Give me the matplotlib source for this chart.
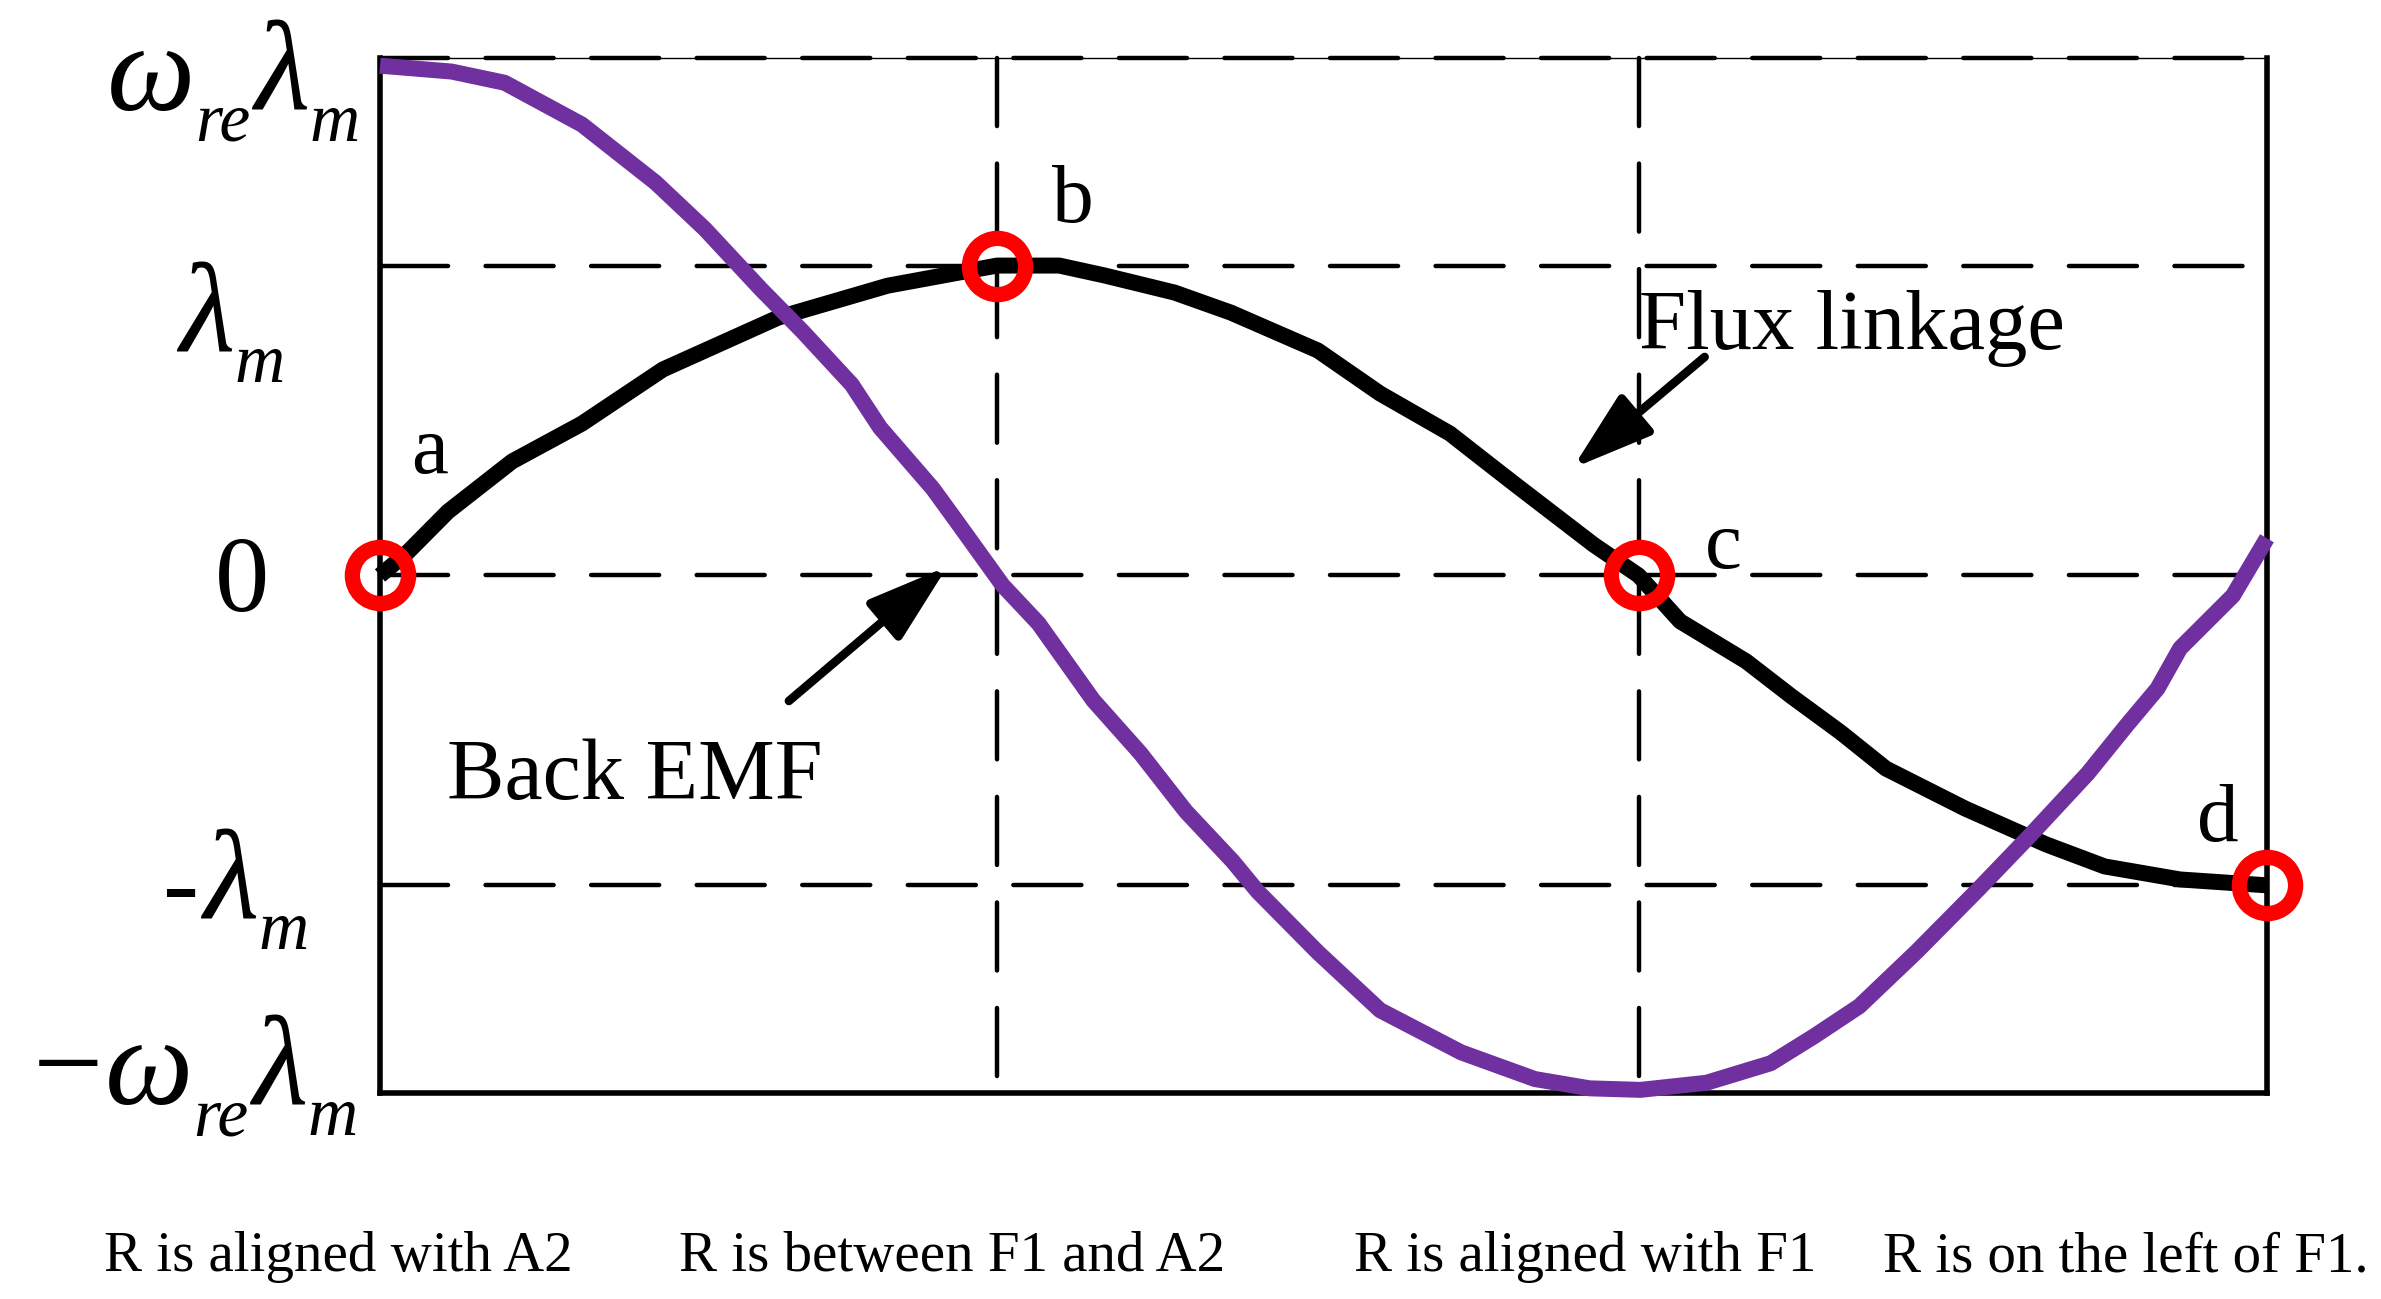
import matplotlib
matplotlib.use("Agg")
import matplotlib.pyplot as plt
import matplotlib.transforms as mtransforms

plt.rcParams['font.family'] = ['Liberation Serif', 'DejaVu Serif']
plt.rcParams['lines.scale_dashes'] = False

# ---------------- data ----------------
LAM = 1.0          # lambda_m
WLAM = 1.67        # omega_re * lambda_m

flux_x = [0.0, 0.014, 0.036, 0.070, 0.107, 0.150, 0.211, 0.269, 0.327, 0.360,
          0.384, 0.421, 0.451, 0.497, 0.530, 0.567, 0.588, 0.603, 0.643, 0.667,
          0.689, 0.724, 0.748, 0.774, 0.798, 0.840, 0.883, 0.914, 0.954, 1.0]
flux_y = [0.0, 0.071, 0.206, 0.368, 0.49, 0.665, 0.832, 0.935, 1.0, 1.0,
          0.968, 0.913, 0.848, 0.726, 0.587, 0.458, 0.358, 0.287, 0.10, 0.0,
          -0.148, -0.277, -0.39, -0.506, -0.623, -0.752, -0.868, -0.939, -0.981, -1.0]

emf_x = [0.0, 0.038, 0.066, 0.107, 0.146, 0.172, 0.202, 0.224, 0.250, 0.265,
         0.293, 0.306, 0.330, 0.349, 0.378, 0.403, 0.427, 0.452, 0.465, 0.497,
         0.530, 0.573, 0.612, 0.641, 0.668, 0.703, 0.737, 0.760, 0.784, 0.8145,
         0.847, 0.874, 0.905, 0.926, 0.942, 0.954, 0.982, 1.0]
emf_y = [1.645, 1.626, 1.59, 1.455, 1.268, 1.119, 0.923, 0.787, 0.616, 0.477,
         0.28, 0.171, -0.032, -0.155, -0.403, -0.574, -0.761, -0.923, -1.019, -1.216,
         -1.403, -1.539, -1.625, -1.655, -1.66, -1.637, -1.574, -1.487, -1.39, -1.213,
         -1.013, -0.842, -0.639, -0.481, -0.365, -0.235, -0.065, 0.12]

point_x = [0.0, 0.327, 0.667, 1.0]
point_y = [0.0, 1.0, 0.0, -1.0]
point_labels = ['a', 'b', 'c', 'd']

# y-axis labels as pieces: W = omega, L = lambda, S = subscript, R = digit / hyphen, M = minus
ylabel_pieces = [
    [('ω', 'W'), ('re', 'S'), ('λ', 'L'), ('m', 'S')],
    [('λ', 'L'), ('m', 'S')],
    [('0', 'R')],
    [('-', 'R'), ('λ', 'L'), ('m', 'S')],
    [('\u2212', 'M'), ('ω', 'W'), ('re', 'S'), ('λ', 'L'), ('m', 'S')],
]
ylabel_anchor = [(-0.0106, 1.503), (-0.0503, 0.723), (-0.0588, -0.116),
                 (-0.0376, -1.106), (-0.0117, -1.706)]

bottom_labels = ['R is aligned with A2', 'R is between F1 and A2',
                 'R is aligned with F1', 'R is on the left of F1.']
bottom_x = [-0.0223, 0.303, 0.6386, 0.925]

# ---------------- figure ----------------
fig = plt.figure(figsize=(23.81, 12.99), dpi=100)
ax = fig.add_axes([0.1596, 0.1586, 0.7925, 0.7968])
ax.set_xlim(0, 1)
ax.set_ylim(-WLAM, WLAM)
ax.set_xticks([])
ax.set_yticks([])

for side in ['left', 'right', 'bottom']:
    ax.spines[side].set_linewidth(4.0)
ax.spines['top'].set_linewidth(1.0)

dash = (0, (49.0, 27.0))
for yv in [WLAM, LAM, 0.0, -LAM]:
    ax.plot([0, 1], [yv, yv], color='black', lw=3.2, linestyle=dash,
            dash_capstyle='round', clip_on=False, zorder=1)
for xv in point_x[1:3]:
    ax.plot([xv, xv], [WLAM, -WLAM], color='black', lw=3.2, linestyle=dash,
            dash_capstyle='round', clip_on=False, zorder=1)

ax.plot(flux_x, flux_y, color='black', lw=11.5, solid_capstyle='butt',
        solid_joinstyle='round', zorder=3, clip_on=False)
ax.plot(emf_x, emf_y, color='#7030A0', lw=11.5, solid_capstyle='butt',
        solid_joinstyle='round', zorder=4, clip_on=False)

ax.plot(point_x, point_y, linestyle='none', marker='o', ms=40.5,
        markerfacecolor='none', markeredgecolor='#FF0000', mew=11.0,
        zorder=6, clip_on=False)

# point letters
letter_pos = [(0.0265, 0.33), (0.367, 1.142), (0.712, 0.023), (0.974, -0.858)]
for lab, (lx, ly) in zip(point_labels, letter_pos):
    ax.text(lx, ly, lab, fontsize=60, ha='center', va='baseline', zorder=7)

# y labels built from pieces (big italic greek, smaller lowered subscripts)
styles = {
    'W': dict(size=90, style='italic', drop=0, kern=2),
    'L': dict(size=92, style='italic', drop=0, kern=4),
    'S': dict(size=50, style='italic', drop=31, kern=0),
    'R': dict(size=78, style='normal', drop=0, kern=0),
    'M': dict(size=90, style='normal', drop=0, kern=0),
}
fig.canvas.draw()
renderer = fig.canvas.get_renderer()
for pieces, (axx, axy) in zip(ylabel_pieces, ylabel_anchor):
    ax_px, ay_px = ax.transData.transform((axx, axy))
    objs = []
    cur = 0.0
    for i, (s, st) in enumerate(pieces):
        cfg = styles[st]
        if i > 0:
            cur += cfg['kern']
        t = fig.text(0, 0, s, fontsize=cfg['size'], fontstyle=cfg['style'],
                     ha='left', va='baseline', transform=None)
        w = t.get_window_extent(renderer).width
        objs.append((t, cur, cfg['drop']))
        cur += w
    shift = ax_px - cur
    for t, xo, drop in objs:
        t.set_position((shift + xo, ay_px - drop))

# annotations
ax.text(0.667, 0.731, 'Flux linkage', fontsize=61, ha='left', va='baseline')
ax.annotate('', xy=(0.632, 0.346), xytext=(0.702, 0.705),
            arrowprops=dict(arrowstyle='-|>,head_length=0.6,head_width=0.19',
                            mutation_scale=82, lw=6.2, color='black',
                            shrinkA=0, shrinkB=0, capstyle='round'))
ax.text(0.0355, -0.722, 'Back EMF', fontsize=62, ha='left', va='baseline')
ax.annotate('', xy=(0.3007, 0.029), xytext=(0.2167, -0.405),
            arrowprops=dict(arrowstyle='-|>,head_length=0.6,head_width=0.19',
                            mutation_scale=82, lw=6.2, color='black',
                            shrinkA=0, shrinkB=0, capstyle='round'))

# bottom captions
trans = mtransforms.blended_transform_factory(ax.transData, fig.transFigure)
for lab, cx in zip(bottom_labels, bottom_x):
    ax.text(cx, 1 - 1271 / 1299, lab, fontsize=41, ha='center', va='baseline',
            transform=trans, clip_on=False)

fig.savefig('out.png', dpi=100, facecolor='white')
